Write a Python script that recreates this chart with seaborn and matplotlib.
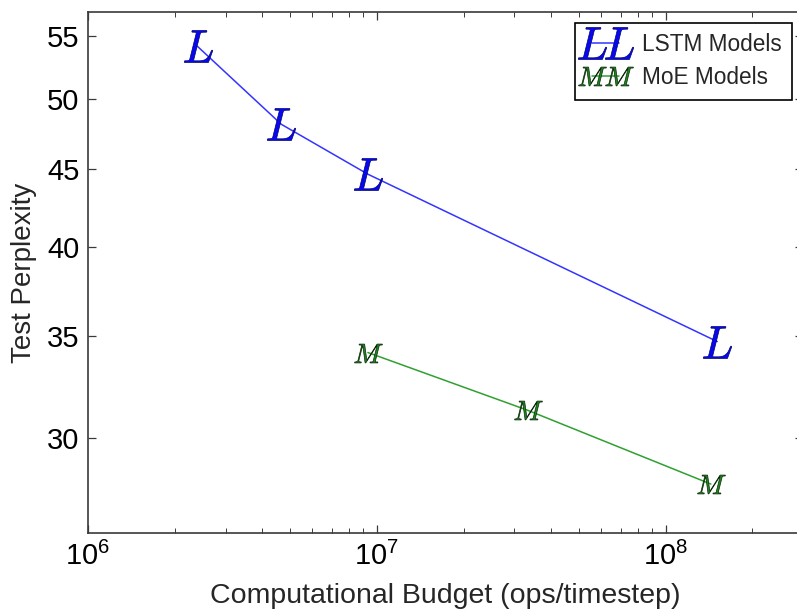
import matplotlib
matplotlib.use("Agg")
import matplotlib.pyplot as plt
import matplotlib.ticker as mticker
import numpy as np
import pandas as pd
import seaborn as sns

# Computational budget (ops/timestep) and test perplexity per model family
lstm_ops = [2.40e6, 4.68e6, 9.33e6, 1.51e8]
lstm_ppl = [54.15, 48.15, 44.66, 34.7]
moe_ops = [9.33e6, 3.34e7, 1.435e8]
moe_ppl = [34.13, 31.28, 27.99]

series_names = ["LSTM Models", "MoE Models"]
y_ticks = [30, 35, 40, 45, 50, 55]

lstm_df = pd.DataFrame({"ops": lstm_ops, "ppl": lstm_ppl})
moe_df = pd.DataFrame({"ops": moe_ops, "ppl": moe_ppl})

sns.set_style("ticks", {
    "xtick.direction": "in",
    "ytick.direction": "in",
    "xtick.top": True,
    "ytick.right": True,
    "axes.edgecolor": "#3a3a3a",
})
plt.rcParams["font.family"] = ["Liberation Sans", "DejaVu Sans"]

fig = plt.figure(figsize=(7.97, 6.11), dpi=100)
# the axes run slightly past the right edge of the canvas
ax = fig.add_axes([0.110, 0.1277, 0.898, 0.852])

# Letter markers are drawn in Computer Modern italic
with plt.rc_context({"mathtext.fontset": "cm"}):
    sns.lineplot(data=lstm_df, x="ops", y="ppl", ax=ax, sort=False,
                 estimator=None, errorbar=None, color="#3434ff", lw=1.1,
                 marker="$L$", markersize=23, markerfacecolor="#0808f0",
                 markeredgecolor="#00006a", markeredgewidth=0.5,
                 label=series_names[0])
    sns.lineplot(data=moe_df, x="ops", y="ppl", ax=ax, sort=False,
                 estimator=None, errorbar=None, color="#30a030", lw=1.1,
                 marker="$M$", markersize=20, markerfacecolor="#218221",
                 markeredgecolor="#0a2a0a", markeredgewidth=0.5,
                 label=series_names[1])
    leg = ax.legend(loc="upper right", bbox_to_anchor=(792 / 797, 1 - 23 / 611),
                    bbox_transform=fig.transFigure, borderaxespad=0,
                    numpoints=2, fontsize=16.3,
                    fancybox=False, frameon=True, framealpha=1,
                    edgecolor="black", handlelength=1.8,
                    handletextpad=0.7, borderpad=0.45, labelspacing=0.45)
leg.get_frame().set_linewidth(1.2)

ax.set_xscale("log")
ax.set_yscale("log")
ax.set_xlim(1e6, 3e8)
ax.set_ylim(26, 57)

ax.yaxis.set_major_locator(mticker.FixedLocator(y_ticks))
ax.yaxis.set_major_formatter(mticker.FixedFormatter([str(t) for t in y_ticks]))
ax.yaxis.set_minor_locator(mticker.NullLocator())

ax.tick_params(which="major", length=6, width=0.9, labelsize=21, pad=6,
               colors="#3a3a3a", labelcolor="black")
ax.tick_params(which="minor", length=3.5, width=0.7, colors="#3a3a3a")
for sp in ax.spines.values():
    sp.set_linewidth(1.2)

ax.set_xlabel("Computational Budget (ops/timestep)", fontsize=20.5, labelpad=9)
ax.set_ylabel("Test Perplexity", fontsize=20, labelpad=7)

fig.savefig("out.png", dpi=100)
